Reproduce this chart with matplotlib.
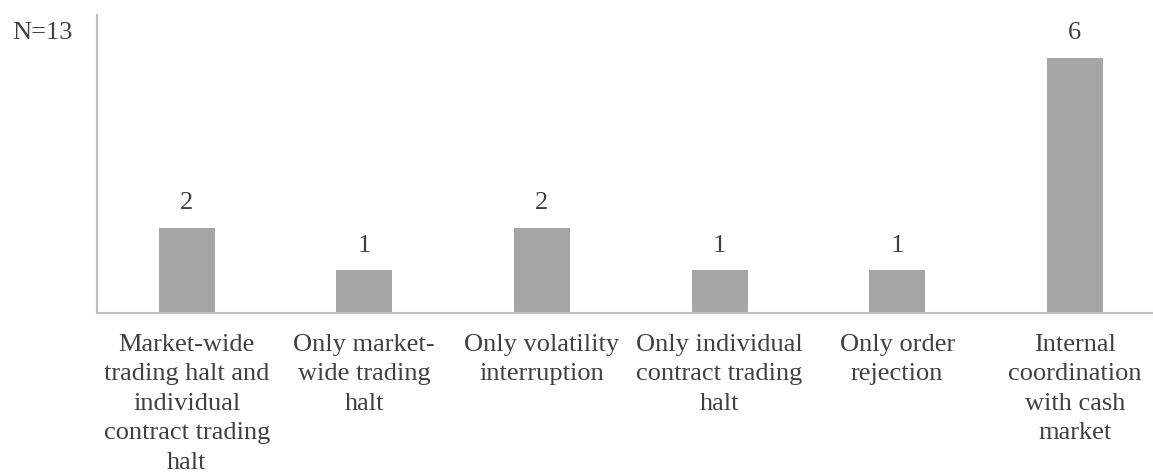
import matplotlib
matplotlib.use('Agg')
import matplotlib.pyplot as plt

# 字体
matplotlib.rcParams['font.family'] = ['Liberation Serif', 'DejaVu Serif']

categories = [
    'Market-wide\ntrading halt and\nindividual\ncontract trading\nhalt',
    'Only market-\nwide trading\nhalt',
    'Only volatility\ninterruption',
    'Only individual\ncontract trading\nhalt',
    'Only order\nrejection',
    'Internal\ncoordination\nwith cash\nmarket',
]
counts = [2, 1, 2, 1, 1, 6]
total_label = 'N=13'

text_color = '#404040'
bar_color = '#a5a5a5'
axis_color = '#bfbfbf'

fig = plt.figure(figsize=(11.53, 4.75), dpi=100)
ax = fig.add_axes([0.0841, 0.341, 0.9159, 0.627])

x = range(len(categories))
bars = ax.bar(x, counts, width=0.315, color=bar_color, zorder=2)

for rect, v in zip(bars, counts):
    ax.annotate(str(v), (rect.get_x() + rect.get_width() / 2, v),
                xytext=(0, 10), textcoords='offset points',
                ha='center', va='bottom', fontsize=19, color=text_color)

ax.set_xlim(-0.505, 5.44)
ax.set_ylim(0, 7)
ax.set_xticks(list(x))
ax.set_xticklabels(categories, fontsize=19, color=text_color, linespacing=1.44,
                   va='top', ha='center')
ax.tick_params(axis='x', length=0, pad=15)
ax.set_yticks([])

for side in ['top', 'right']:
    ax.spines[side].set_visible(False)
for side in ['left', 'bottom']:
    ax.spines[side].set_color(axis_color)
    ax.spines[side].set_linewidth(1.5)

fig.text(0.0104, 0.93, total_label, fontsize=19, color=text_color,
         ha='left', va='center')

plt.savefig('out.png', dpi=100)
plt.close()
